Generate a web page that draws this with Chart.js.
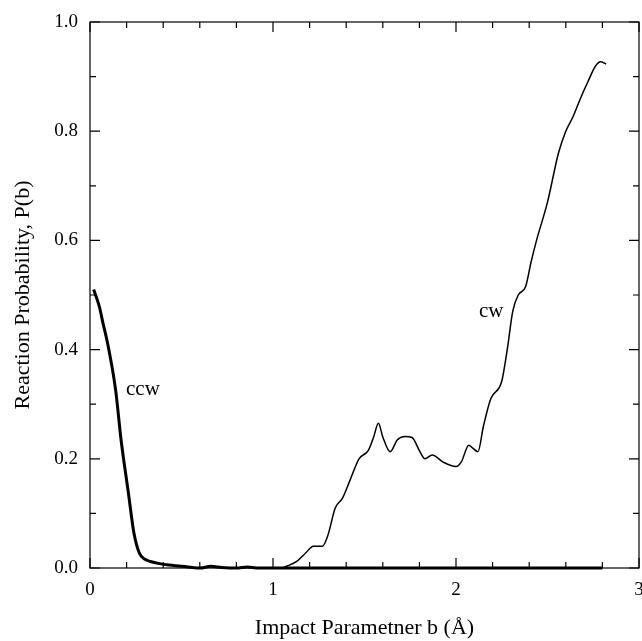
<!DOCTYPE html>
<html>
<head>
<meta charset="utf-8">
<script src="https://cdn.jsdelivr.net/npm/chart.js@4/dist/chart.umd.min.js"></script>
<style>
  html, body { margin: 0; padding: 0; background: #fff; }
  #wrap { width: 642px; height: 641px; }
</style>
</head>
<body>
<div id="wrap"><canvas id="chart" width="642" height="641"></canvas></div>
<script>
// impact parameter b (Å) and reaction probability P(b)
const bCcw = [0.02, 0.05, 0.07, 0.10, 0.14, 0.17, 0.21, 0.24, 0.27, 0.30, 0.33, 0.38, 0.42, 0.50, 0.56, 0.60, 0.66, 0.72, 0.80, 0.86, 0.92, 1.0, 1.4, 1.8, 2.2, 2.6, 2.8];
const pCcw = [0.510, 0.480, 0.450, 0.405, 0.326, 0.234, 0.137, 0.064, 0.027, 0.016, 0.012, 0.008, 0.006, 0.003, 0.001, 0.000, 0.003, 0.001, 0.000, 0.002, 0.000, 0.0, 0.0, 0.0, 0.0, 0.0, 0.0];

const bCw = [0.95, 1.04, 1.08, 1.13, 1.18, 1.22, 1.27, 1.30, 1.34, 1.38, 1.42, 1.47, 1.52, 1.55, 1.576, 1.60, 1.64, 1.68, 1.72, 1.76, 1.80, 1.83, 1.87, 1.93, 2.00, 2.03, 2.07, 2.09, 2.12, 2.15, 2.19, 2.25, 2.28, 2.31, 2.34, 2.38, 2.41, 2.44, 2.50, 2.56, 2.60, 2.64, 2.68, 2.72, 2.76, 2.79, 2.82];
const pCw = [0.0, 0.0, 0.004, 0.012, 0.028, 0.040, 0.040, 0.060, 0.110, 0.128, 0.160, 0.200, 0.215, 0.240, 0.265, 0.240, 0.213, 0.235, 0.241, 0.239, 0.215, 0.200, 0.207, 0.194, 0.186, 0.195, 0.225, 0.220, 0.213, 0.260, 0.310, 0.342, 0.400, 0.470, 0.500, 0.515, 0.560, 0.600, 0.670, 0.760, 0.800, 0.827, 0.860, 0.890, 0.918, 0.927, 0.923];

const xRange = [0, 3];
const yRange = [0, 1];

const serif = "'Liberation Serif', 'DejaVu Serif', serif";

const toPoints = (xs, ys) => xs.map((v, i) => ({ x: v, y: ys[i] }));

// frame with inward ticks on all four sides, plus curve labels
const framePlugin = {
    id: 'frame',
    afterDraw(chart) {
        const { ctx, chartArea } = chart;
        const { left, right, top, bottom } = chartArea;
        const xs = chart.scales.x;
        const ys = chart.scales.y;
        ctx.save();
        ctx.strokeStyle = '#000';
        ctx.lineWidth = 1.2;
        ctx.strokeRect(left, top, right - left, bottom - top);

        const isMajorX = v => Math.abs(v - Math.round(v)) < 1e-6;
        const isMajorY = v => Math.abs(v * 5 - Math.round(v * 5)) < 1e-6;

        ctx.beginPath();
        xs.ticks.forEach(t => {
            const px = xs.getPixelForValue(t.value);
            const len = isMajorX(t.value) ? 10 : 6;
            ctx.moveTo(px, bottom); ctx.lineTo(px, bottom - len);
            ctx.moveTo(px, top); ctx.lineTo(px, top + len);
        });
        ys.ticks.forEach(t => {
            const py = ys.getPixelForValue(t.value);
            const len = isMajorY(t.value) ? 10 : 6;
            ctx.moveTo(left, py); ctx.lineTo(left + len, py);
            ctx.moveTo(right, py); ctx.lineTo(right - len, py);
        });
        ctx.stroke();

        ctx.fillStyle = '#000';
        ctx.font = '21px ' + serif;
        ctx.textBaseline = 'alphabetic';
        ctx.textAlign = 'left';
        ctx.fillText('ccw', 126, 395);
        ctx.fillText('cw', 479, 317);
        ctx.restore();
    }
};

new Chart(document.getElementById('chart'), {
    type: 'scatter',
    data: {
        datasets: [
            {
                label: 'ccw',
                data: toPoints(bCcw, pCcw),
                showLine: true,
                borderColor: '#000',
                borderWidth: 3,
                pointRadius: 0,
                cubicInterpolationMode: 'monotone',
                clip: 4
            },
            {
                label: 'cw',
                data: toPoints(bCw, pCw),
                showLine: true,
                borderColor: '#000',
                borderWidth: 1.5,
                pointRadius: 0,
                cubicInterpolationMode: 'monotone',
                clip: 4
            }
        ]
    },
    options: {
        responsive: false,
        animation: false,
        events: [],
        layout: { padding: { top: 22, right: 3, left: 0, bottom: 0 } },
        plugins: {
            legend: { display: false },
            tooltip: { enabled: false }
        },
        scales: {
            x: {
                type: 'linear',
                min: xRange[0],
                max: xRange[1],
                grid: { display: false, drawTicks: false },
                border: { display: false },
                afterFit: scale => {
                    scale.height = 73;
                    scale.paddingRight = 0;
                    scale.paddingLeft = 0;
                },
                ticks: {
                    stepSize: 0.2,
                    autoSkip: false,
                    maxRotation: 0,
                    padding: 11,
                    color: '#000',
                    font: { family: serif, size: 19 },
                    callback: v => Math.abs(v - Math.round(v)) < 1e-6 ? String(Math.round(v)) : ''
                },
                title: {
                    display: true,
                    text: 'Impact Parametner b (Å)',
                    color: '#000',
                    font: { family: serif, size: 22 },
                    padding: { top: 0, bottom: 0 }
                }
            },
            y: {
                type: 'linear',
                min: yRange[0],
                max: yRange[1],
                grid: { display: false, drawTicks: false },
                border: { display: false },
                afterFit: scale => {
                    scale.width = 90;
                    scale.paddingTop = 0;
                    scale.paddingBottom = 0;
                },
                ticks: {
                    stepSize: 0.1,
                    autoSkip: false,
                    padding: 12,
                    color: '#000',
                    font: { family: serif, size: 19 },
                    callback: v => Math.round(v * 10) % 2 === 0 ? v.toFixed(1) : ''
                },
                title: {
                    display: true,
                    text: 'Reaction Probability, P(b)',
                    color: '#000',
                    font: { family: serif, size: 22 },
                    padding: { top: 10, bottom: 0 }
                }
            }
        }
    },
    plugins: [framePlugin]
});
</script>
</body>
</html>
